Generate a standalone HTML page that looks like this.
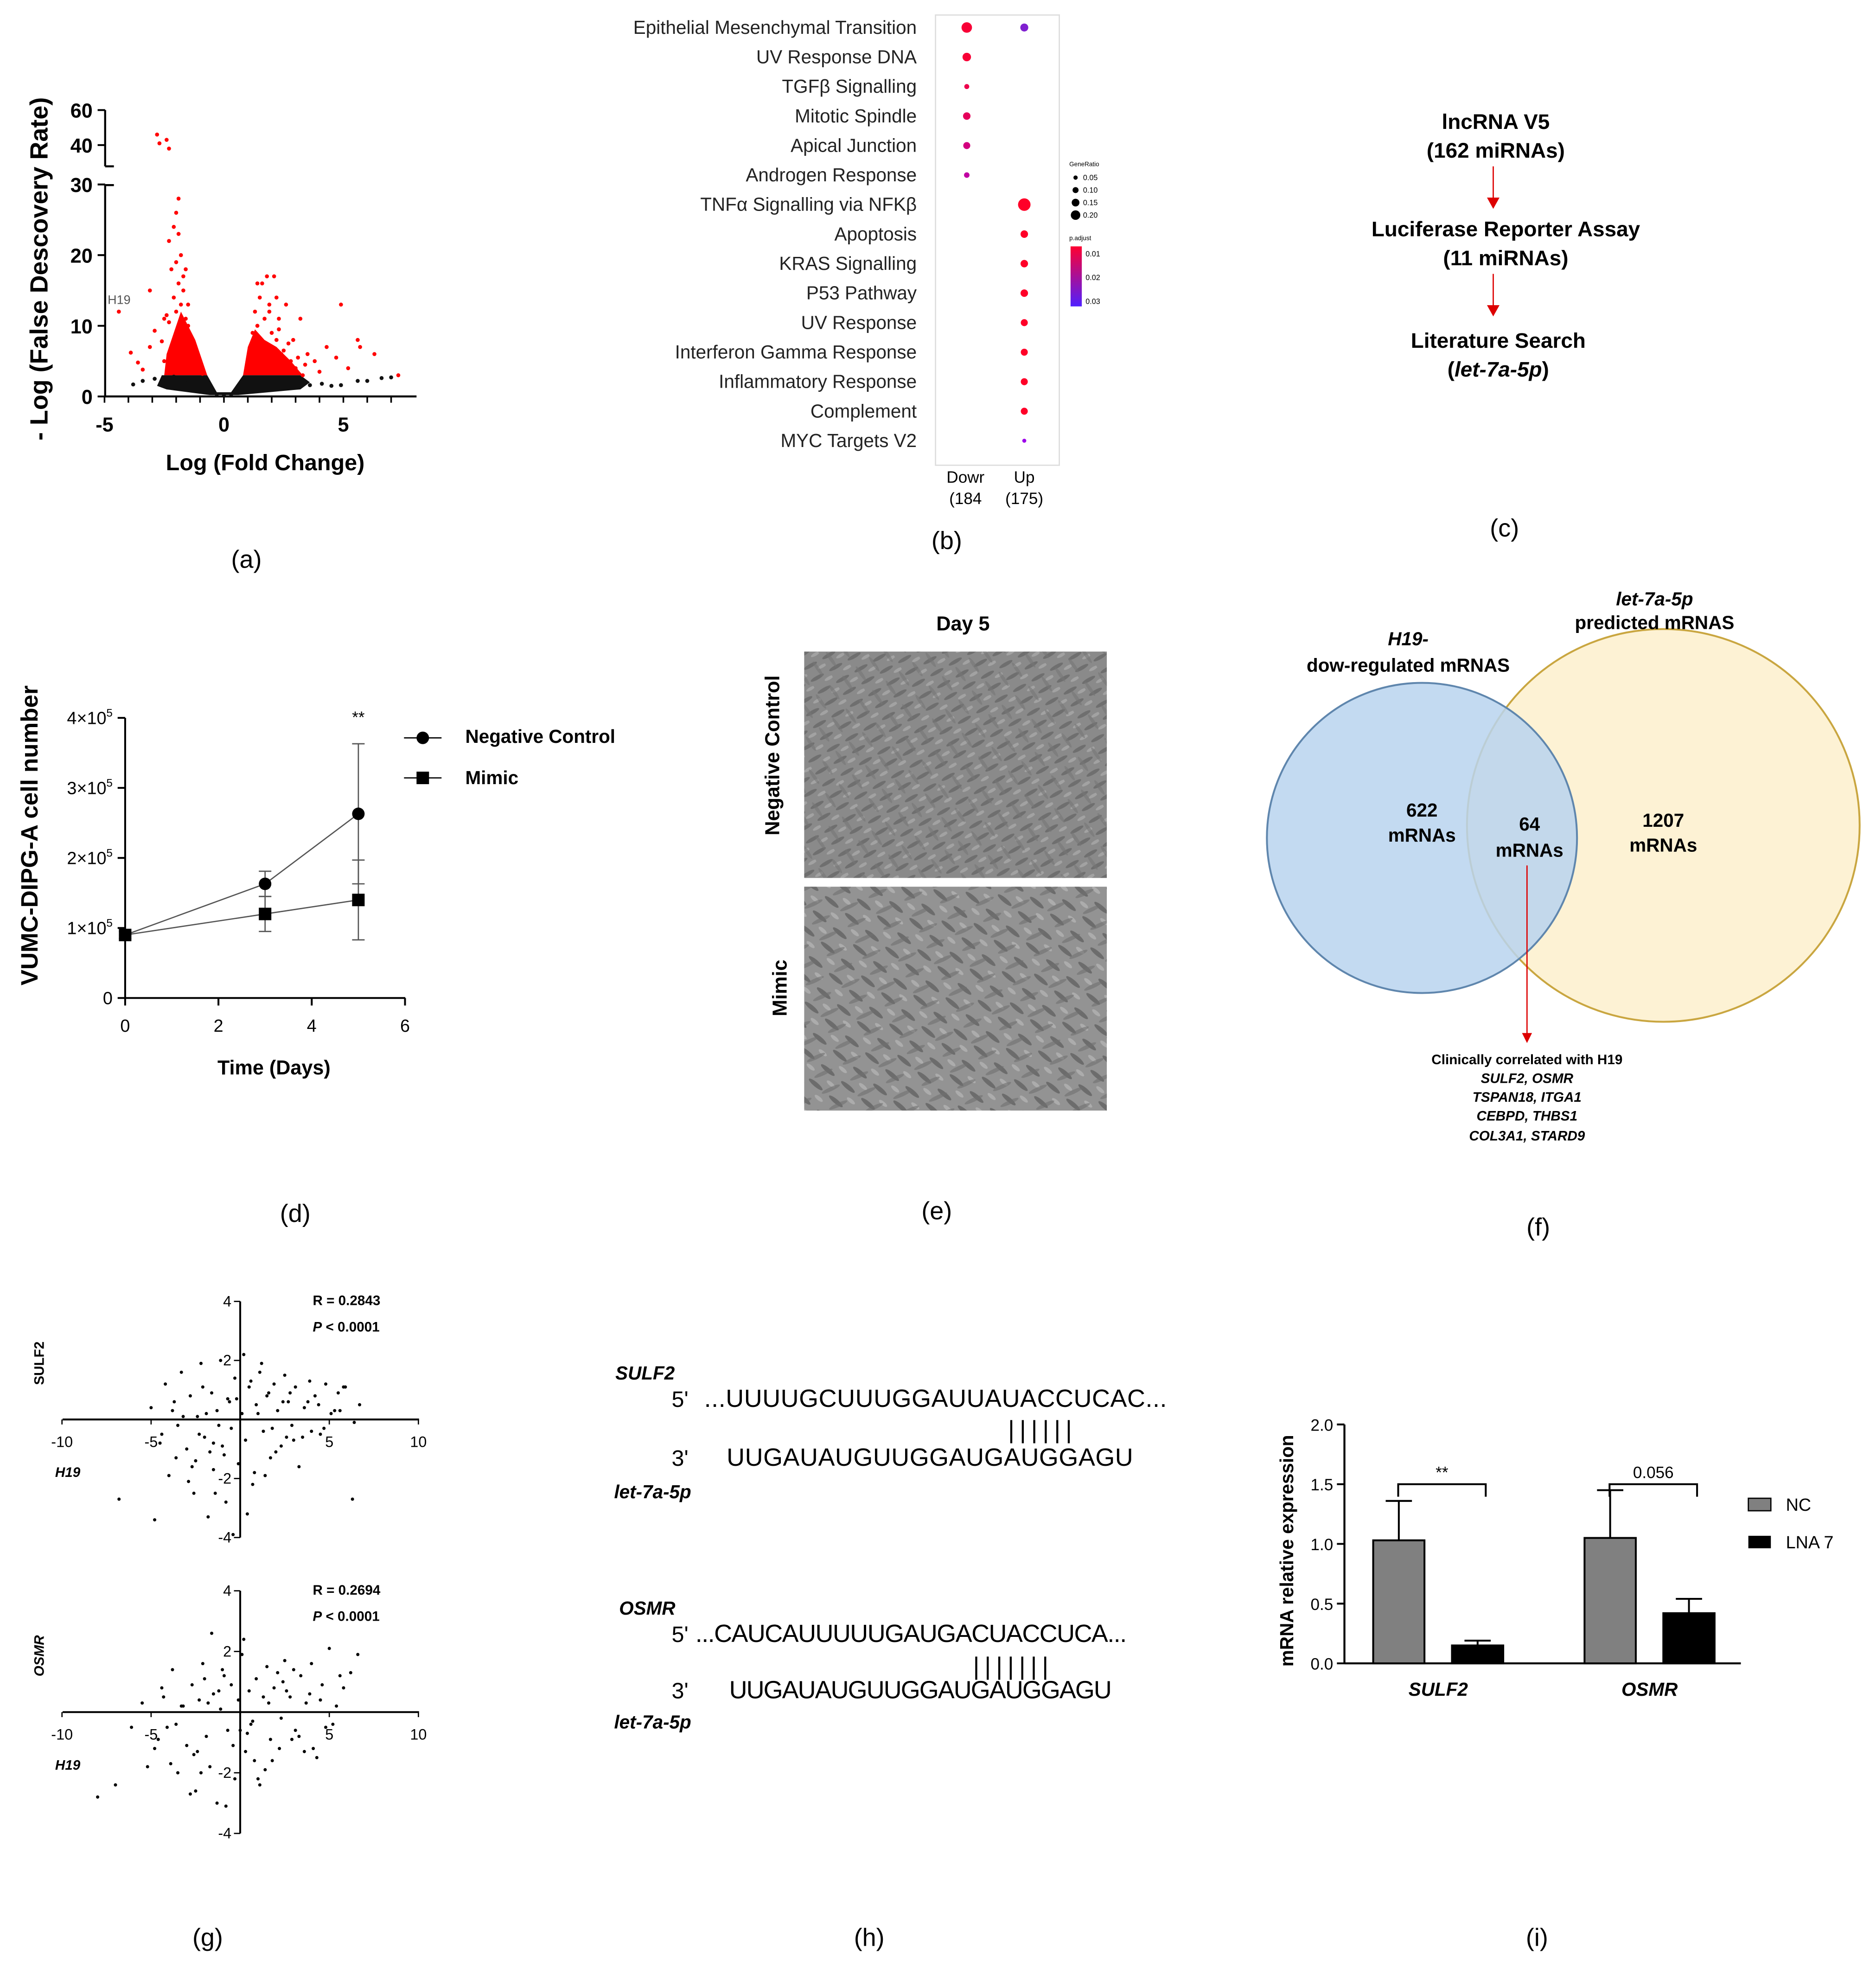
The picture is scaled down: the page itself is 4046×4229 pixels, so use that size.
<!DOCTYPE html>
<html><head><meta charset="utf-8"><style>
html,body{margin:0;padding:0;background:#fff}
svg{display:block}
text{font-family:"Liberation Sans",Arial,sans-serif}
</style></head><body>
<svg id="fig" width="4046" height="4229" viewBox="0 0 1500 1568" xmlns="http://www.w3.org/2000/svg">
<defs>
<pattern id="cells" width="17" height="11" patternUnits="userSpaceOnUse" patternTransform="rotate(-30)">
<rect width="17" height="11" fill="#8a8a8a"/>
<ellipse cx="6" cy="4" rx="6" ry="1.5" fill="#6f6f6f"/>
<ellipse cx="14" cy="9" rx="4" ry="1.3" fill="#a2a2a2"/>
</pattern>
<pattern id="cellsB" width="23" height="13" patternUnits="userSpaceOnUse" patternTransform="rotate(55)">
<ellipse cx="8" cy="5" rx="7" ry="1.4" fill="#767676" fill-opacity="0.6"/>
</pattern>
<pattern id="cells2" width="21" height="15" patternUnits="userSpaceOnUse" patternTransform="rotate(40)">
<rect width="21" height="15" fill="#939393"/>
<ellipse cx="7" cy="5" rx="7" ry="1.8" fill="#6c6c6c"/>
<ellipse cx="16" cy="12" rx="4" ry="1.5" fill="#acacac"/>
</pattern>
<pattern id="cells2B" width="25" height="14" patternUnits="userSpaceOnUse" patternTransform="rotate(-25)">
<ellipse cx="9" cy="6" rx="8" ry="1.6" fill="#707070" fill-opacity="0.6"/>
</pattern>
</defs>
<g id="pa"></g>
<g id="pb"></g>
<g id="pc">
<text x="1196" y="103" font-size="17" font-weight="bold" text-anchor="middle">lncRNA V5</text>
<text x="1196" y="126" font-size="17" font-weight="bold" text-anchor="middle">(162 miRNAs)</text>
<line x1="1194" y1="133" x2="1194" y2="160" stroke="#d00" stroke-width="1"/>
<polygon points="1189,158 1199,158 1194,167" fill="#d00"/>
<text x="1204" y="189" font-size="17" font-weight="bold" text-anchor="middle">Luciferase Reporter Assay</text>
<text x="1204" y="212" font-size="17" font-weight="bold" text-anchor="middle">(11 miRNAs)</text>
<line x1="1194" y1="219" x2="1194" y2="246" stroke="#d00" stroke-width="1"/>
<polygon points="1189,244 1199,244 1194,253" fill="#d00"/>
<text x="1198" y="278" font-size="17" font-weight="bold" text-anchor="middle">Literature Search</text>
<text x="1198" y="301" font-size="17" font-weight="bold" text-anchor="middle">(<tspan font-style="italic">let-7a-5p</tspan>)</text>
</g>
<g id="pd"></g>
<g id="pe">
<text x="770" y="504" font-size="16" font-weight="bold" text-anchor="middle">Day 5</text>
<rect x="643" y="521" width="242" height="181" fill="url(#cells)"/>
<rect x="643" y="521" width="242" height="181" fill="url(#cellsB)"/>
<rect x="643" y="709" width="242" height="179" fill="url(#cells2)"/>
<rect x="643" y="709" width="242" height="179" fill="url(#cells2B)"/>
<text transform="translate(623,604) rotate(-90)" font-size="16" font-weight="bold" text-anchor="middle">Negative Control</text>
<text transform="translate(629,790) rotate(-90)" font-size="16" font-weight="bold" text-anchor="middle">Mimic</text>
</g>
<g id="pf">
<circle cx="1330" cy="660" r="157" fill="#fdf2d4" stroke="#c9a640" stroke-width="1.5"/>
<circle cx="1137" cy="670" r="124" fill="#b8d3ee" fill-opacity="0.85" stroke="#5f86ad" stroke-width="1.5"/>
<text x="1126" y="516" font-size="15" font-weight="bold" font-style="italic" text-anchor="middle">H19-</text>
<text x="1126" y="537" font-size="15" font-weight="bold" text-anchor="middle">dow-regulated mRNAS</text>
<text x="1323" y="484" font-size="15" font-weight="bold" font-style="italic" text-anchor="middle">let-7a-5p</text>
<text x="1323" y="503" font-size="15" font-weight="bold" text-anchor="middle">predicted mRNAS</text>
<text x="1137" y="653" font-size="15" font-weight="bold" text-anchor="middle">622</text>
<text x="1137" y="673" font-size="15" font-weight="bold" text-anchor="middle">mRNAs</text>
<text x="1223" y="664" font-size="15" font-weight="bold" text-anchor="middle">64</text>
<text x="1223" y="685" font-size="15" font-weight="bold" text-anchor="middle">mRNAs</text>
<text x="1330" y="661" font-size="15" font-weight="bold" text-anchor="middle">1207</text>
<text x="1330" y="681" font-size="15" font-weight="bold" text-anchor="middle">mRNAs</text>
<line x1="1221" y1="692" x2="1221" y2="828" stroke="#d00"/>
<polygon points="1217,826 1225,826 1221,834" fill="#d00"/>
<text x="1221" y="851" font-size="11" font-weight="bold" text-anchor="middle">Clinically  correlated with H19</text>
<text x="1221" y="866" font-size="11" font-weight="bold" font-style="italic" text-anchor="middle">SULF2, OSMR</text>
<text x="1221" y="881" font-size="11" font-weight="bold" font-style="italic" text-anchor="middle">TSPAN18, ITGA1</text>
<text x="1221" y="896" font-size="11" font-weight="bold" font-style="italic" text-anchor="middle">CEBPD, THBS1</text>
<text x="1221" y="912" font-size="11" font-weight="bold" font-style="italic" text-anchor="middle">COL3A1, STARD9</text>
</g>
<g id="pg"></g>
<g id="ph" font-size="20">
<text x="492" y="1103" font-size="15" font-weight="bold" font-style="italic">SULF2</text>
<text x="537" y="1125" font-size="18">5'</text>
<text x="563" y="1125" textLength="370">...UUUUGCUUUGGAUUAUACCUCAC...</text>
<text x="806" y="1150" letter-spacing="4">||||||</text>
<text x="537" y="1172" font-size="18">3'</text>
<text x="581" y="1172" textLength="325">UUGAUAUGUUGGAUGAUGGAGU</text>
<text x="491" y="1198" font-size="15" font-weight="bold" font-style="italic">let-7a-5p</text>
<text x="495" y="1291" font-size="15" font-weight="bold" font-style="italic">OSMR</text>
<text x="537" y="1313" font-size="18">5'</text>
<text x="556" y="1313" textLength="345">...CAUCAUUUUUGAUGACUACCUCA...</text>
<text x="778" y="1339" letter-spacing="4">|||||||</text>
<text x="537" y="1358" font-size="18">3'</text>
<text x="583" y="1358" textLength="306">UUGAUAUGUUGGAUGAUGGAGU</text>
<text x="491" y="1382" font-size="15" font-weight="bold" font-style="italic">let-7a-5p</text>
</g>
<g id="pi"></g>
<g font-size="20">
<text x="197" y="454" text-anchor="middle">(a)</text>
<text x="757" y="439" text-anchor="middle">(b)</text>
<text x="1203" y="429" text-anchor="middle">(c)</text>
<text x="236" y="977" text-anchor="middle">(d)</text>
<text x="749" y="975" text-anchor="middle">(e)</text>
<text x="1230" y="988" text-anchor="middle">(f)</text>
<text x="166" y="1556" text-anchor="middle">(g)</text>
<text x="695" y="1556" text-anchor="middle">(h)</text>
<text x="1229" y="1556" text-anchor="middle">(i)</text>
</g>
</svg>
<script>
const NS="http://www.w3.org/2000/svg";
function mk(p,tag,at,txt){const e=document.createElementNS(NS,tag);for(const k in at)e.setAttribute(k,at[k]);if(txt!==undefined)e.textContent=txt;p.appendChild(e);return e;}

// ---- (a) volcano data ----
const volcLfc=[-4.4,-3.9,-3.6,-3.4,-3.1,-3.1,-2.9,-2.8,-2.7,-2.6,-2.5,-2.5,-2.4,-2.3,-2.3,-2.2,-2.2,-2.1,-2.1,-2.0,-2.0,-1.9,-1.9,-1.8,-1.8,-1.8,-1.7,-1.7,-1.6,-1.6,-1.5,-1.5,-1.4,-1.4,-1.3,-1.3,-1.2,-1.2,-1.1,-1.1,-1.0,-1.0,-0.9,-2.9,-2.6,-2.4,-2.2,-1.9,-1.7,-1.5,-1.3,-1.1,-0.9,-0.7,-0.5,-0.3,0,0.3,0.5,0.7,0.9,1.0,1.0,1.1,1.1,1.2,1.2,1.3,1.3,1.4,1.4,1.5,1.5,1.6,1.6,1.7,1.8,1.8,1.9,2.0,2.0,2.1,2.2,2.2,2.3,2.4,2.5,2.6,2.8,2.9,3.0,3.2,3.3,3.5,3.8,4.0,4.3,4.7,4.9,5.2,5.6,5.7,6.3,1.2,1.6,2.0,2.4,2.8,3.2,3.6,4.1,4.5,4.9,5.6,6.0,6.6,7.0,7.3,-3.8,-3.4,-2.1,-1.6,-2.4,-2.0,-1.7,-1.5,-1.9,-2.3,2.7,3.1,3.4,2.5,1.9,2.3];
const volcFdr=[12,6.2,4.8,3.8,7,15,9.3,46,41,7.8,11,5,43,38,22,18,6,14,24,26,12,28,16,20,9,13,8,15,18,11,7.5,10,6,8,7,5,6,4.5,5.5,4,4.5,3.5,3.2,2.5,2.2,2,2.6,2.4,2.2,1.8,2,1.6,1.2,0.8,0.5,0.3,0.2,0.3,0.5,0.8,1.2,4,3.5,7,5,9,6,12,8,16,10,5,14,7,16,11,6,17,13,9,4,17,14,8,11,6,4.5,13,5,8,4,11,3,6,5,3.5,7,5.5,13,4,8,7,6,2,2.5,2,2.2,1.8,2,1.6,1.8,1.5,1.6,2.2,2.2,2.6,2.7,3,1.7,2.2,2.8,2.4,11.5,19,17,13,23,10.5,7.5,5.5,4.5,6.5,12,9.5];
const volcX=[-5,0,5],volcY=[0,10,20,30],volcYT=[40,60];
(function(){
 const g=document.getElementById('pa');
 const X=v=>179+v*19.1, Y=v=>317-v*5.65, YT=v=>116-(v-40)*1.4;
 mk(g,'line',{x1:84,y1:317,x2:333,y2:317,stroke:'#000','stroke-width':1.6});
 mk(g,'line',{x1:84,y1:317,x2:84,y2:148,stroke:'#000','stroke-width':1.6});
 mk(g,'line',{x1:84,y1:133,x2:84,y2:88,stroke:'#000','stroke-width':1.6});
 mk(g,'line',{x1:84,y1:133,x2:91,y2:133,stroke:'#000','stroke-width':1.6});
 mk(g,'line',{x1:84,y1:148,x2:91,y2:148,stroke:'#000','stroke-width':1.6});
 for(let v=-5;v<=7.5;v+=1)mk(g,'line',{x1:X(v),y1:317,x2:X(v),y2:322,stroke:'#000','stroke-width':1.3});
 volcX.forEach(v=>mk(g,'text',{x:X(v),y:345,'font-size':16,'font-weight':'bold','text-anchor':'middle'},v));
 volcY.forEach(v=>{mk(g,'line',{x1:78,y1:Y(v),x2:84,y2:Y(v),stroke:'#000','stroke-width':1.5});mk(g,'text',{x:74,y:Y(v)+6,'font-size':16,'font-weight':'bold','text-anchor':'end'},v);});
 volcYT.forEach(v=>{mk(g,'line',{x1:78,y1:YT(v),x2:84,y2:YT(v),stroke:'#000','stroke-width':1.5});mk(g,'text',{x:74,y:YT(v)+6,'font-size':16,'font-weight':'bold','text-anchor':'end'},v);});
 mk(g,'path',{d:`M${X(-2.5)},${Y(3)} L${X(-2.4)},${Y(6)} L${X(-2.1)},${Y(9)} L${X(-1.8)},${Y(12)} L${X(-1.5)},${Y(10)} L${X(-1.2)},${Y(8)} L${X(-0.9)},${Y(5)} L${X(-0.7)},${Y(3)} Z`,fill:'#f00'});
 mk(g,'path',{d:`M${X(0.8)},${Y(3)} L${X(1)},${Y(7)} L${X(1.3)},${Y(9.5)} L${X(1.7)},${Y(8)} L${X(2.2)},${Y(7)} L${X(2.8)},${Y(5)} L${X(3.3)},${Y(3)} Z`,fill:'#f00'});
 mk(g,'path',{d:`M${X(-2.8)},${Y(1.5)} L${X(-2.6)},${Y(3)} L${X(-0.7)},${Y(3)} L${X(-0.3)},${Y(0.6)} L${X(0.3)},${Y(0.6)} L${X(0.8)},${Y(3)} L${X(3.2)},${Y(3)} L${X(3.6)},${Y(2)} L${X(3.2)},${Y(1)} L${X(0.6)},${Y(0.2)} L${X(-0.6)},${Y(0.2)} L${X(-2.4)},${Y(1)} Z`,fill:'#111'});
 volcLfc.forEach((v,i)=>{const f=volcFdr[i];const red=Math.abs(v)>=0.9&&f>=3;
  const c=mk(g,'circle',{cx:X(v),cy:f>=35?YT(f):Y(f),r:1.6,fill:red?'#f00':'#111'});
  
  });
 mk(g,'text',{x:86,y:243,'font-size':10,fill:'#555'},'H19');
 mk(g,'text',{x:212,y:376,'font-size':18,'font-weight':'bold','text-anchor':'middle'},'Log (Fold Change)');
 mk(g,'text',{transform:'translate(38,215) rotate(-90)','font-size':20,'font-weight':'bold','text-anchor':'middle'},'- Log (False Descovery Rate)');
})();

// ---- (b) dot plot ----
const pathways=['Epithelial Mesenchymal Transition','UV Response DNA','TGFβ Signalling','Mitotic Spindle','Apical Junction','Androgen Response','TNFα Signalling  via NFKβ','Apoptosis','KRAS Signalling','P53 Pathway','UV Response','Interferon Gamma Response','Inflammatory Response','Complement','MYC Targets V2'];
const groupCol=[0,0,0,0,0,0,1,1,1,1,1,1,1,1,1];
const geneRatio=[0.16,0.12,0.05,0.1,0.09,0.06,0.2,0.1,0.1,0.1,0.09,0.09,0.09,0.09,0.03];
const padj=[0.005,0.005,0.008,0.01,0.015,0.02,0.003,0.003,0.003,0.003,0.003,0.003,0.003,0.003,0.03];
(function(){
 const g=document.getElementById('pb');
 const rowY=i=>22+i*23.6, colX=c=>773+c*46;
 mk(g,'rect',{x:748,y:12,width:99,height:360,fill:'#fff',stroke:'#ddd'});
 pathways.forEach((p,i)=>{mk(g,'text',{x:733,y:rowY(i)+5,'font-size':15,'text-anchor':'end',fill:'#222'},p);});
 const col=v=>{const t=Math.min(1,(v-0.003)/0.03);return `rgb(${Math.round(255-110*t)},0,${Math.round(40+215*t)})`;};
 mk(g,'circle',{cx:819,cy:rowY(0),r:3.2,fill:'#8020d0'});
 pathways.forEach((p,i)=>{const c=mk(g,'circle',{cx:colX(groupCol[i]),cy:rowY(i),r:1+geneRatio[i]*20,fill:col(padj[i])});
  
  });
 mk(g,'text',{x:772,y:386,'font-size':13,'text-anchor':'middle'},'Dowr');
 mk(g,'text',{x:772,y:403,'font-size':13,'text-anchor':'middle'},'(184');
 mk(g,'text',{x:819,y:386,'font-size':13,'text-anchor':'middle'},'Up');
 mk(g,'text',{x:819,y:403,'font-size':13,'text-anchor':'middle'},'(175)');
 mk(g,'text',{x:855,y:133,'font-size':5},'GeneRatio');
 [0.05,0.1,0.15,0.2].forEach((v,i)=>{mk(g,'circle',{cx:860,cy:142+i*10,r:1+v*14,fill:'#000'});mk(g,'text',{x:866,y:144+i*10,'font-size':6},v.toFixed(2));});
 mk(g,'text',{x:855,y:192,'font-size':5},'p.adjust');
 const lg=mk(document.querySelector('defs'),'linearGradient',{id:'pg1',x1:0,y1:0,x2:0,y2:1});
 mk(lg,'stop',{offset:0,'stop-color':'#ff0030'});mk(lg,'stop',{offset:1,'stop-color':'#5020ff'});
 mk(g,'rect',{x:856,y:197,width:9,height:48,fill:'url(#pg1)'});
 ['0.01','0.02','0.03'].forEach((t,i)=>mk(g,'text',{x:868,y:205+i*19,'font-size':6},t));
})();

// ---- (d) line chart ----
const days=[0,3,5];
const ncMean=[0.9,1.63,2.63], ncErr=[0.05,0.18,1.0];
const mimicMean=[0.9,1.2,1.4], mimicErr=[0.05,0.25,0.57];
const dXT=[0,2,4,6], dYT=[0,1,2,3,4];
(function(){
 const g=document.getElementById('pd');
 const X=v=>100+v*37.3, Y=v=>798-v*56;
 mk(g,'line',{x1:100,y1:798,x2:324,y2:798,stroke:'#000','stroke-width':1.5});
 mk(g,'line',{x1:100,y1:798,x2:100,y2:574,stroke:'#000','stroke-width':1.5});
 dXT.forEach(v=>{mk(g,'line',{x1:X(v),y1:798,x2:X(v),y2:804,stroke:'#000','stroke-width':1.5});mk(g,'text',{x:X(v),y:825,'font-size':14,'text-anchor':'middle'},v);});
 dYT.forEach(v=>{mk(g,'line',{x1:94,y1:Y(v),x2:100,y2:Y(v),stroke:'#000','stroke-width':1.5});
  const t=mk(g,'text',{x:90,y:Y(v)+5,'font-size':14,'text-anchor':'end'},v===0?'0':v+'×10');if(v)mk(t,'tspan',{dy:-6,'font-size':9},'5');});
 [[ncMean,ncErr,'circle'],[mimicMean,mimicErr,'square']].forEach(([m,e,s])=>{
  mk(g,'polyline',{points:days.map((d,i)=>X(d)+','+Y(m[i])).join(' '),fill:'none',stroke:'#555','stroke-width':1});
  days.forEach((d,i)=>{mk(g,'line',{x1:X(d),y1:Y(m[i]-e[i]),x2:X(d),y2:Y(m[i]+e[i]),stroke:'#555'});
   [m[i]-e[i],m[i]+e[i]].forEach(v=>mk(g,'line',{x1:X(d)-5,y1:Y(v),x2:X(d)+5,y2:Y(v),stroke:'#555'}));
   const p=s==='circle'?mk(g,'circle',{cx:X(d),cy:Y(m[i]),r:5,fill:'#000'}):mk(g,'rect',{x:X(d)-5,y:Y(m[i])-5,width:10,height:10,fill:'#000'});
   
   });});
 mk(g,'text',{x:X(5),y:578,'font-size':13,'text-anchor':'middle'},'**');
 mk(g,'line',{x1:323,y1:590,x2:353,y2:590,stroke:'#000'});mk(g,'circle',{cx:338,cy:590,r:5});
 mk(g,'text',{x:372,y:594,'font-size':15,'font-weight':'bold'},'Negative Control');
 mk(g,'line',{x1:323,y1:622,x2:353,y2:622,stroke:'#000'});mk(g,'rect',{x:333,y:617,width:10,height:10});
 mk(g,'text',{x:372,y:627,'font-size':15,'font-weight':'bold'},'Mimic');
 mk(g,'text',{x:219,y:859,'font-size':16,'font-weight':'bold','text-anchor':'middle'},'Time (Days)');
 mk(g,'text',{transform:'translate(30,668) rotate(-90)','font-size':19,'font-weight':'bold','text-anchor':'middle'},'VUMC-DIPG-A cell number');
})();

// ---- (g) scatter ----
const sulfH19=[-5,-4.5,-4.2,-4,-3.8,-3.5,-3.3,-3,-2.8,-2.6,-2.4,-2.2,-2,-1.8,-1.6,-1.5,-1.3,-1.1,-1,-0.8,-0.6,-0.5,-0.3,-0.1,0.1,0.3,0.5,0.7,0.9,1.1,1.3,1.5,1.7,1.9,2.1,2.3,2.5,2.7,2.9,3.1,3.3,3.6,3.9,4.2,4.5,4.8,5.1,5.5,5.9,6.3,6.7,-3.6,-2.9,-2.1,-1.4,-0.7,0.4,1.2,2,2.8,3.5,4.4,5.3,-6.8,-4.8,-2.5,-1.2,0.6,1.8,3,4,6.4,-3.2,-1.7,-0.4,1,2.4,5.8,-2.3,0.2,-4.4,-3.7,-2.7,-1.9,-0.9,0.8,1.6,2.6,3.8,4.7,5.6,-1.5,-0.2,1.4];
const sulfVal=[0.4,-0.8,1.2,-1.9,0.3,-0.2,1.6,-1,0.8,-2.5,0.1,1.9,-0.6,-3.3,0.9,-1.7,0.3,2,-0.9,-2.8,0.6,-0.3,1.4,-1.5,0.2,-0.7,1.1,-2.2,0.5,1.6,-0.4,0.8,-1.3,1.2,0.3,-0.9,1.5,0.6,-0.2,1.1,-1.6,0.4,1.3,0.8,-0.5,1.2,0.2,0.9,1.1,-2.7,0.5,-1.3,-2.1,1.1,-2.5,0.7,-3.2,1.9,-1.1,0.9,-0.6,0.5,0.3,-2.7,-3.4,-1.4,-0.2,1.3,-0.3,-0.7,-0.4,-0.1,0.1,-1.1,-3.9,0.2,0.6,1.1,-0.5,2.2,-0.5,0.6,-1.6,0.2,-1.2,-1.8,0.9,-0.6,0.6,-0.3,0.3,-0.8,0.7,-1.9];
const osmrH19=[-5.5,-4.8,-4.4,-4.1,-3.8,-3.5,-3.2,-3,-2.7,-2.5,-2.3,-2.1,-1.9,-1.7,-1.5,-1.3,-1.1,-0.9,-0.7,-0.5,-0.3,-0.1,0.1,0.3,0.5,0.7,0.9,1.1,1.3,1.5,1.7,1.9,2.1,2.3,2.5,2.8,3.1,3.4,3.7,4,4.3,4.6,5,5.4,5.8,6.2,6.6,-7,-6.1,-3.9,-2.8,-1.8,-0.8,0.2,1.4,2.4,3.3,4.5,5.6,-4.6,-2.2,-1,0.6,1.8,3,4.1,5.2,-3.3,-1.6,0.4,2.6,-5.2,-2.6,1,3.6,-8,-4.3,-3.6,-2.4,-1.2,-0.4,0.8,1.6,2.9,3.9,4.8,-2,0,2.2];
const osmrVal=[0.3,-1.2,0.8,-0.5,1.4,-2,0.2,-1.1,0.9,-2.6,0.4,1.6,-0.8,-1.8,0.6,-3,0.1,1.2,-0.6,0.9,-2.2,0.4,1.9,-1.3,0.7,-0.3,1.1,-2.4,0.5,1.5,-0.9,0.8,1.3,-0.2,1.7,0.5,-0.6,1.2,0.3,1.6,-1.5,0.9,2.1,0.2,0.8,1.3,1.9,-2.4,-0.5,-1.7,-2.7,0.3,-3.1,2.4,-1.9,1,-0.8,0.4,1.2,-0.9,-2,1.4,-0.4,-1.6,1.4,-1.2,-0.4,0.2,2.6,-0.7,0.7,-1.8,-1.4,-2.2,-1.3,-2.8,0.5,-0.4,-1.3,0.7,-1.1,-1.6,0.3,-0.9,0.6,-0.5,1.1,-0.6,-1.2];
const gXT=[-10,-5,5,10], gYT=[4,2,-2,-4];
(function(){
 const g=document.getElementById('pg');
 function panel(cy,ys,hs,vs,gene,R){
  const X=v=>192+v*14.25, Y=v=>cy-v*ys;
  mk(g,'line',{x1:50,y1:cy,x2:335,y2:cy,stroke:'#000','stroke-width':1.5});
  mk(g,'line',{x1:192,y1:Y(4),x2:192,y2:Y(-4),stroke:'#000','stroke-width':1.5});
  gXT.forEach(v=>{mk(g,'line',{x1:X(v),y1:cy,x2:X(v),y2:cy+4,stroke:'#000'});mk(g,'text',{x:X(v),y:cy+22,'font-size':12,'text-anchor':'middle'},v);});
  gYT.forEach(v=>{mk(g,'line',{x1:187,y1:Y(v),x2:192,y2:Y(v),stroke:'#000'});mk(g,'text',{x:185,y:Y(v)+4,'font-size':12,'text-anchor':'end'},v);});
  hs.forEach((h,i)=>{const c=mk(g,'circle',{cx:X(h),cy:Y(vs[i]),r:1.3,fill:'#000'});
   
   });
  mk(g,'text',{x:44,y:cy+46,'font-size':11,'font-weight':'bold','font-style':'italic'},'H19');
  mk(g,'text',{transform:`translate(35,${cy-45}) rotate(-90)`,'font-size':11,'font-weight':'bold','font-style':gene==='OSMR'?'italic':'normal','text-anchor':'middle'},gene);
  mk(g,'text',{x:250,y:Y(4)+3,'font-size':11,'font-weight':'bold'},'R = '+R);
  const t=mk(g,'text',{x:250,y:Y(4)+24,'font-size':11,'font-weight':'bold'});mk(t,'tspan',{'font-style':'italic'},'P');mk(t,'tspan',{},' < 0.0001');
 }
 panel(1135,23.6,sulfH19,sulfVal,'SULF2','0.2843');
 panel(1369,24.25,osmrH19,osmrVal,'OSMR','0.2694');
})();

// ---- (i) bar chart ----
const genes=['SULF2','OSMR'];
const ncVals=[1.03,1.05], ncErrs=[0.33,0.4];
const lnaVals=[0.15,0.42], lnaErrs=[0.04,0.12];
const iYT=[0,0.5,1,1.5,2];
(function(){
 const g=document.getElementById('pi');
 const Y=v=>1330-v*95.5;
 mk(g,'line',{x1:1075,y1:1330,x2:1392,y2:1330,stroke:'#000','stroke-width':1.6});
 mk(g,'line',{x1:1075,y1:1330,x2:1075,y2:1139,stroke:'#000','stroke-width':1.6});
 iYT.forEach(v=>{mk(g,'line',{x1:1069,y1:Y(v),x2:1075,y2:Y(v),stroke:'#000','stroke-width':1.5});mk(g,'text',{x:1066,y:Y(v)+5,'font-size':13,'text-anchor':'end'},v.toFixed(1));});
 genes.forEach((gn,i)=>{const x0=1098+i*169;
  [[ncVals[i],ncErrs[i],'#808080',x0],[lnaVals[i],lnaErrs[i],'#000',x0+63]].forEach(([v,e,f,x])=>{
   const r=mk(g,'rect',{x:x,y:Y(v),width:41,height:v*95.5,fill:f,stroke:'#000','stroke-width':1.5});
   
   
   mk(g,'line',{x1:x+20.5,y1:Y(v),x2:x+20.5,y2:Y(v+e),stroke:'#000','stroke-width':1.5});
   mk(g,'line',{x1:x+10,y1:Y(v+e),x2:x+31,y2:Y(v+e),stroke:'#000','stroke-width':1.5});});
  mk(g,'text',{x:x0+52,y:1356,'font-size':15,'font-weight':'bold','font-style':'italic','text-anchor':'middle'},gn);
  mk(g,'path',{d:`M${x0+20},${Y(1.5)+10} V${Y(1.5)} H${x0+90} V${Y(1.5)+10}`,fill:'none',stroke:'#000','stroke-width':1.5});
  mk(g,'text',{x:x0+55,y:Y(1.5)-5,'font-size':13,'text-anchor':'middle'},i===0?'**':'0.056');});
 mk(g,'rect',{x:1398,y:1198,width:18,height:10,fill:'#808080',stroke:'#000'});
 mk(g,'text',{x:1428,y:1208,'font-size':14},'NC');
 mk(g,'rect',{x:1398,y:1228,width:18,height:10,fill:'#000'});
 mk(g,'text',{x:1428,y:1238,'font-size':14},'LNA 7');
 mk(g,'text',{transform:'translate(1034,1240) rotate(-90)','font-size':15,'font-weight':'bold','text-anchor':'middle'},'mRNA relative expression');
})();
</script>
</body></html>
